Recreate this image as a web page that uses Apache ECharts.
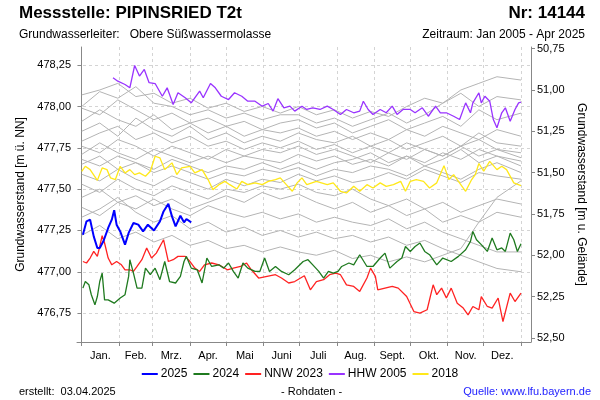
<!DOCTYPE html>
<html><head><meta charset="utf-8">
<script src="https://cdn.jsdelivr.net/npm/echarts@6/dist/echarts.min.js"></script>
<style>html,body{margin:0;padding:0;background:#fff}#c{width:600px;height:400px}</style>
</head><body><div id="c"></div><script>
// ---- axis content ----
const monthStarts = [0,31,59,90,120,151,181,212,243,273,304,334,365];
const monthNames = ['Jan.','Feb.','Mrz.','Apr.','Mai','Juni','Juli','Aug.','Sept.','Okt.','Nov.','Dez.'];
const levelTicks = [476.75,477,477.25,477.5,477.75,478,478.25];
const depthTicks = [50.75,51,51.25,51.5,51.75,52,52.25,52.5];
const groundLevel = 529.10;   // m ü. NN (Gelände)
const levelMin = 476.575, levelMax = 478.36;

// ---- series (day of year, m ü. NN) ----
const days2025 = [1,4,7,10,13,15,18,22,25,27,29,32,36,39,43,47,51,55,60,65,68,72,75,78,82,85,87,91];
const vals2025 = [477.224,477.305,477.315,477.214,477.144,477.144,477.184,477.265,477.315,477.372,477.285,477.244,477.164,477.235,477.295,477.285,477.244,477.285,477.250,477.305,477.365,477.412,477.335,477.275,477.339,477.299,477.319,477.299];

const days2024 = [1,3,6,8,11,13,15,17,19,22,27,32,36,39,40,43,46,50,53,57,61,65,69,73,78,82,85,87,91,96,100,104,108,114,118,122,126,130,134,138,144,148,152,156,161,166,172,177,184,188,192,197,201,205,209,213,216,222,226,231,237,242,248,252,256,262,266,269,273,277,281,285,289,295,300,307,313,319,323,325,328,332,337,341,345,349,352,356,359,362,365];
const vals2024 = [476.901,476.941,476.921,476.861,476.800,476.850,476.941,476.992,476.830,476.830,476.810,476.841,476.861,476.972,477.073,476.992,476.901,476.901,477.022,476.982,477.022,476.952,477.062,476.941,476.932,476.972,477.062,477.093,477.022,477.012,476.932,477.083,477.032,477.042,477.022,477.053,477.002,476.962,477.053,477.022,477.002,477.002,477.083,477.002,477.032,477.002,476.982,477.012,477.062,477.073,477.042,477.002,476.962,477.002,476.992,477.002,477.032,477.053,477.042,477.103,477.032,477.032,477.083,477.113,477.022,477.062,477.083,477.153,477.123,477.153,477.174,477.123,477.103,477.042,477.083,477.062,477.093,477.133,477.184,477.244,477.194,477.164,477.123,477.204,477.133,477.144,477.123,477.234,477.194,477.123,477.170];

const daysNNW = [1,4,7,10,13,15,17,19,22,25,29,33,36,40,43,46,50,54,58,62,68,72,76,80,86,90,94,98,102,108,114,121,126,132,137,141,147,154,161,166,172,177,185,190,195,201,206,211,215,220,226,231,237,240,244,246,252,258,263,270,276,281,287,292,295,299,303,307,312,317,321,325,330,332,337,341,346,350,356,360,365];
const valsNNW = [477.062,477.053,477.083,477.123,477.093,477.153,477.218,477.174,477.083,477.042,477.062,477.042,477.012,477.012,477.002,477.032,477.073,477.144,477.083,477.113,477.194,477.062,477.073,477.093,477.093,477.062,477.022,477.002,477.042,477.053,477.042,477.012,477.022,477.032,477.053,477.012,476.962,476.972,476.982,476.962,476.932,476.941,476.976,476.891,476.941,476.952,476.982,476.992,476.982,476.921,476.911,476.881,476.962,477.022,476.972,476.891,476.901,476.911,476.901,476.850,476.759,476.750,476.770,476.921,476.861,476.901,476.841,476.901,476.810,476.780,476.739,476.790,476.770,476.850,476.790,476.780,476.841,476.699,476.871,476.820,476.871];

const daysHHW = [26,30,36,40,44,48,52,56,61,67,71,76,80,86,91,98,101,107,111,116,122,127,133,138,144,150,155,159,163,168,173,177,183,187,192,198,204,209,215,220,226,231,234,238,242,248,253,258,262,267,273,277,283,288,294,298,303,309,314,319,323,325,330,332,335,339,342,345,349,352,356,360,363,365];
const valsHHW = [478.174,478.153,478.133,478.113,478.248,478.184,478.224,478.144,478.139,478.062,478.113,478.012,478.083,478.053,478.022,478.093,478.053,478.139,478.113,478.062,478.042,478.083,478.062,478.032,478.032,478.002,478.018,477.972,478.047,477.992,478.002,477.972,478.002,477.982,477.992,477.982,478.002,477.982,477.952,477.982,477.962,477.972,478.032,477.982,477.952,477.982,477.962,478.002,477.952,477.982,477.982,477.962,477.992,477.941,478.002,477.962,477.962,477.941,477.921,478.022,477.962,478.022,478.083,478.022,478.062,478.032,477.921,477.871,477.962,477.992,477.911,477.982,478.022,478.026];

const days2018 = [0,3,7,13,17,21,24,28,32,36,40,44,48,53,57,61,65,69,75,79,83,90,94,100,105,109,114,119,123,129,133,138,144,150,155,161,165,170,175,179,183,187,195,204,209,215,220,226,231,237,242,248,253,259,265,269,273,278,284,289,295,301,305,309,313,319,324,327,330,334,339,345,349,353,359,365];
const vals2018 = [477.608,477.638,477.618,477.553,477.628,477.618,477.568,477.558,477.638,477.598,477.618,477.588,477.598,477.578,477.608,477.699,477.689,477.618,477.659,477.588,477.628,477.638,477.598,477.618,477.558,477.497,477.527,477.547,477.527,477.501,477.547,477.527,477.538,477.527,477.547,477.558,477.568,477.527,477.487,477.538,477.568,477.527,477.547,477.527,477.538,477.487,477.477,477.517,477.487,477.527,477.507,477.538,477.517,477.527,477.547,477.487,477.547,477.558,477.547,477.507,477.538,477.642,477.558,477.588,477.547,477.487,477.558,477.588,477.655,477.608,477.668,477.618,477.638,477.618,477.538,477.521];

// other years (grey)
const greyDays = [0,15,30,45,60,75,90,105,120,135,150,165,180,195,210,225,240,255,270,285,300,315,330,345,365];
const grey01 = [478.07,478.10,478.14,478.06,478.08,478.02,478.05,477.99,478.02,477.97,478.00,477.96,478.00,477.95,477.98,477.93,477.97,477.94,478.00,478.05,478.02,478.10,478.14,478.18,478.16];
const grey02 = [478.00,478.09,478.05,478.12,478.02,478.00,477.95,477.98,477.93,477.96,477.92,477.95,477.95,477.90,477.93,477.88,477.92,477.96,477.90,477.95,478.02,478.08,478.00,478.06,478.04];
const grey03 = [477.99,477.95,478.04,477.98,477.92,477.96,477.90,477.93,477.88,477.91,477.86,477.90,477.92,477.87,477.90,477.84,477.88,477.92,477.86,477.90,477.94,477.88,477.98,477.92,477.96];
const grey04 = [477.91,477.98,477.92,477.88,477.95,477.86,477.90,477.84,477.88,477.82,477.86,477.84,477.87,477.82,477.85,477.80,477.84,477.80,477.86,477.82,477.88,477.84,477.80,477.86,477.82];
const grey05 = [477.85,477.90,477.82,477.93,477.86,477.82,477.88,477.80,477.84,477.78,477.82,477.79,477.84,477.80,477.78,477.82,477.76,477.80,477.74,477.78,477.82,477.76,477.84,477.78,477.76];
const grey06 = [477.79,477.84,477.88,477.80,477.84,477.78,477.82,477.76,477.79,477.74,477.78,477.75,477.79,477.74,477.77,477.72,477.76,477.72,477.78,477.74,477.70,477.76,477.80,477.74,477.72];
const grey07 = [477.76,477.72,477.80,477.76,477.70,477.76,477.72,477.68,477.74,477.70,477.74,477.72,477.76,477.71,477.74,477.70,477.66,477.72,477.68,477.74,477.70,477.76,477.70,477.74,477.69];
const grey08 = [477.71,477.78,477.72,477.68,477.74,477.70,477.66,477.70,477.66,477.70,477.68,477.66,477.71,477.67,477.70,477.65,477.68,477.64,477.70,477.66,477.72,477.68,477.74,477.70,477.67];
const grey09 = [477.68,477.64,477.70,477.66,477.62,477.68,477.64,477.60,477.64,477.62,477.66,477.62,477.66,477.62,477.66,477.68,477.72,477.66,477.70,477.64,477.68,477.74,477.66,477.70,477.64];
const grey10 = [477.65,477.70,477.62,477.66,477.60,477.64,477.60,477.56,477.60,477.58,477.62,477.60,477.63,477.58,477.62,477.60,477.64,477.62,477.58,477.64,477.60,477.56,477.62,477.66,477.60];
const grey11 = [477.59,477.55,477.62,477.56,477.52,477.58,477.54,477.50,477.56,477.52,477.56,477.54,477.59,477.55,477.58,477.54,477.56,477.60,477.56,477.62,477.58,477.54,477.60,477.58,477.56];
const grey12 = [477.53,477.48,477.56,477.50,477.46,477.52,477.48,477.44,477.50,477.48,477.52,477.50,477.53,477.48,477.46,477.50,477.44,477.40,477.44,477.38,477.42,477.36,477.40,477.44,477.41];
const grey13 = [477.45,477.50,477.42,477.46,477.40,477.44,477.38,477.42,477.46,477.42,477.48,477.44,477.47,477.42,477.38,477.42,477.36,477.40,477.34,477.38,477.30,477.34,477.30,477.36,477.33];
const grey14 = [477.39,477.34,477.42,477.38,477.44,477.38,477.34,477.40,477.36,477.33,477.36,477.32,477.35,477.30,477.33,477.30,477.28,477.32,477.26,477.30,477.24,477.20,477.16,477.12,477.12];
const grey15 = [477.33,477.38,477.45,477.36,477.30,477.34,477.26,477.30,477.24,477.27,477.22,477.25,477.21,477.24,477.20,477.22,477.18,477.21,477.16,477.19,477.14,477.10,477.06,477.02,477.00];
const grey16 = [477.22,477.28,477.20,477.24,477.18,477.22,477.16,477.19,477.14,477.16,477.12,477.15,477.12,477.10,477.13,477.08,477.10,477.06,477.09,477.06,477.10,477.14,477.30,477.45,477.55];
const greyYears = [grey01,grey02,grey03,grey04,grey05,grey06,grey07,grey08,grey09,grey10,grey11,grey12,grey13,grey14,grey15,grey16];

// ---- build ----
const FONT = '"Liberation Sans", Arial, sans-serif';
const zip = (d, v) => d.map((x, i) => [x, v[i]]);
const monthMids = monthStarts.slice(0, 12).map((s, i) => (s + monthStarts[i + 1]) / 2);
const fmt2 = v => v.toFixed(2).replace('.', ',');

const series = [];
greyYears.forEach((g, i) => series.push({
  name: 'grey' + i, type: 'line', data: zip(greyDays, g), symbol: 'none',
  lineStyle: { color: '#b4b4b4', width: 1 }, silent: true, z: 1
}));
const colored = [
  { name: '2018', d: days2018, v: vals2018, c: '#ffe81a', w: 1.3 },
  { name: 'HHW 2005', d: daysHHW, v: valsHHW, c: '#9933ff', w: 1.3 },
  { name: 'NNW 2023', d: daysNNW, v: valsNNW, c: '#ff2222', w: 1.3 },
  { name: '2024', d: days2024, v: vals2024, c: '#1f7a1f', w: 1.3 },
  { name: '2025', d: days2025, v: vals2025, c: '#0000ff', w: 2 }
];
colored.forEach((s, i) => series.push({
  name: s.name, type: 'line', data: zip(s.d, s.v), symbol: 'none',
  lineStyle: { color: s.c, width: s.w }, itemStyle: { color: s.c }, silent: true, z: 2 + i
}));

const txt = (size, bold, color) => ({ fontFamily: FONT, fontSize: size, fontWeight: bold ? 'bold' : 'normal', color: color || '#000' });

const chart = echarts.init(document.getElementById('c'), null, { renderer: 'canvas' });
chart.setOption({
  animation: false,
  textStyle: { fontFamily: FONT },
  title: [
    { text: 'Messstelle: PIPINSRIED T2t', left: 19, top: 5, padding: 0, textStyle: txt(17, true) },
    { text: 'Nr: 14144', right: 15, top: 5, padding: 0, textStyle: txt(17, true) },
    { text: 'Grundwasserleiter:   Obere Süßwassermolasse', left: 19, top: 29, padding: 0, textStyle: txt(12, false) },
    { text: 'Zeitraum: Jan 2005 - Apr 2025', right: 15, top: 29, padding: 0, textStyle: txt(12, false) },
    { text: 'erstellt:  03.04.2025', left: 19, top: 386, padding: 0, textStyle: txt(11, false) },
    { text: '- Rohdaten -', left: 281, top: 386, padding: 0, textStyle: txt(11, false) },
    { text: 'Quelle: www.lfu.bayern.de', right: 9, top: 386, padding: 0, textStyle: txt(11, false, '#2222ff') }
  ],
  legend: {
    data: ['2025', '2024', 'NNW 2023', 'HHW 2005', '2018'],
    left: 'center', top: 368, padding: 0, icon: 'rect', itemWidth: 16, itemHeight: 2, itemGap: 6,
    textStyle: { fontFamily: FONT, fontSize: 12, color: '#000', padding: [0, 0, 0, -2] }, selectedMode: false
  },
  grid: { left: 77, right: 69, top: 47, bottom: 58, outerBoundsMode: 'none' },
  xAxis: {
    type: 'value', min: -3.9, max: 373.3,
    axisLine: { show: true, lineStyle: { color: '#888', width: 1 } },
    axisTick: { show: true, customValues: monthStarts, length: 4, lineStyle: { color: '#888' } },
    axisLabel: {
      customValues: monthMids, fontSize: 11, color: '#000', margin: 8, fontFamily: FONT,
      formatter: v => { let k = 0; monthMids.forEach((m, i) => { if (Math.abs(m - v) < 1) k = i; }); return monthNames[k]; }
    },
    splitLine: { show: true, lineStyle: { color: '#d4d4d4', type: [3, 3], width: 1 } }
  },
  yAxis: [
    {
      type: 'value', position: 'left', min: levelMin, max: levelMax,
      name: 'Grundwasserstand [m ü. NN]', nameLocation: 'middle', nameGap: 47, nameRotate: 90,
      nameTextStyle: { fontFamily: FONT, fontSize: 12, color: '#000' },
      axisLine: { show: true, lineStyle: { color: '#888', width: 1 } },
      axisTick: { show: true, customValues: levelTicks, length: 4, lineStyle: { color: '#888' } },
      axisLabel: { customValues: levelTicks, formatter: fmt2, fontSize: 11, color: '#000', margin: 6, fontFamily: FONT },
      splitLine: { show: true, lineStyle: { color: '#d4d4d4', type: [3, 3], width: 1 } }
    },
    {
      type: 'value', position: 'right', inverse: true,
      min: groundLevel - levelMax, max: groundLevel - levelMin,
      name: 'Grundwasserstand [m u. Gelände]', nameLocation: 'middle', nameGap: 41, nameRotate: -90,
      nameTextStyle: { fontFamily: FONT, fontSize: 12, color: '#000' },
      axisLine: { show: true, lineStyle: { color: '#888', width: 1 } },
      axisTick: { show: true, customValues: depthTicks, length: 4, lineStyle: { color: '#888' } },
      axisLabel: { customValues: depthTicks, formatter: fmt2, fontSize: 11, color: '#000', margin: 6, fontFamily: FONT },
      splitLine: { show: false }
    }
  ],
  series: series
});
</script></body></html>
